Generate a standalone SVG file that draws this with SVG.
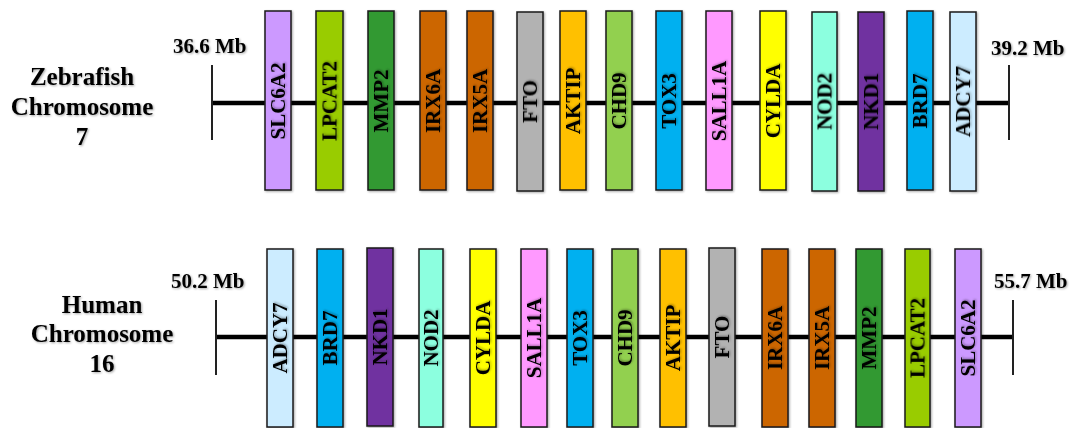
<svg xmlns="http://www.w3.org/2000/svg" width="1078" height="428" viewBox="0 0 1078 428">
<defs>
<filter id="sh" x="-20%" y="-20%" width="140%" height="140%">
<feDropShadow dx="1" dy="1" stdDeviation="0.8" flood-color="#000" flood-opacity="0.35"/>
</filter>
</defs>
<style>
text{font-family:"Liberation Serif","Times New Roman",serif;font-weight:bold;fill:#000;}
.title{font-size:25px;text-anchor:middle;filter:url(#sh);}
.mb{font-size:21px;filter:url(#sh);}
.gene rect{stroke:#1a1a1a;stroke-width:1.5;filter:url(#sh);}
.gene text{font-size:21px;text-anchor:middle;dominant-baseline:central;filter:url(#sh);}
.chr{stroke:#000;stroke-width:4.5;}
.tick{stroke:#222;stroke-width:2;}
</style>
<rect width="1078" height="428" fill="#fff"/>

<g id="zebrafish-label">
<text class="title" x="82" y="85">Zebrafish</text>
<text class="title" x="82" y="115">Chromosome</text>
<text class="title" x="82" y="145">7</text>
<text class="mb" x="173" y="53">36.6 Mb</text>
<text class="mb" x="991" y="55">39.2 Mb</text>
</g>
<g id="human-label">
<text class="title" x="102" y="313">Human</text>
<text class="title" x="102" y="342">Chromosome</text>
<text class="title" x="102" y="372">16</text>
<text class="mb" x="171" y="288">50.2 Mb</text>
<text class="mb" x="994" y="288">55.7 Mb</text>
</g>

<g id="connectors">
<line class="chr" x1="212" y1="103" x2="1009" y2="103"/>
<line class="tick" x1="212" y1="65" x2="212" y2="140"/>
<line class="tick" x1="1009" y1="65" x2="1009" y2="140"/>
<line class="chr" x1="216" y1="337" x2="1013" y2="337"/>
<line class="tick" x1="216" y1="300" x2="216" y2="375"/>
<line class="tick" x1="1013" y1="300" x2="1013" y2="375"/>
</g>

<!-- Zebrafish genes -->
<g id="z-SLC6A2" class="gene"><rect x="265" y="11" width="26" height="179" fill="#CC99FF"/><text transform="translate(278,101) rotate(-90)">SLC6A2</text></g>
<g id="z-LPCAT2" class="gene"><rect x="316" y="11" width="27" height="179" fill="#99CC00"/><text transform="translate(329.5,101) rotate(-90)">LPCAT2</text></g>
<g id="z-MMP2" class="gene"><rect x="368" y="11" width="26" height="179" fill="#339933"/><text transform="translate(381,101) rotate(-90)">MMP2</text></g>
<g id="z-IRX6A" class="gene"><rect x="420" y="11" width="26" height="179" fill="#CC6600"/><text transform="translate(433,101) rotate(-90)">IRX6A</text></g>
<g id="z-IRX5A" class="gene"><rect x="467" y="11" width="26" height="179" fill="#CC6600"/><text transform="translate(480,101) rotate(-90)">IRX5A</text></g>
<g id="z-FTO" class="gene"><rect x="517" y="12" width="26" height="179" fill="#B2B2B2"/><text transform="translate(530,101.5) rotate(-90)">FTO</text></g>
<g id="z-AKTIP" class="gene"><rect x="560" y="11" width="26" height="179" fill="#FFC000"/><text transform="translate(573,101) rotate(-90)">AKTIP</text></g>
<g id="z-CHD9" class="gene"><rect x="606" y="11" width="26" height="179" fill="#92D050"/><text transform="translate(619,101) rotate(-90)">CHD9</text></g>
<g id="z-TOX3" class="gene"><rect x="656" y="11" width="26" height="179" fill="#00B0F0"/><text transform="translate(669,101) rotate(-90)">TOX3</text></g>
<g id="z-SALL1A" class="gene"><rect x="706" y="11" width="26" height="179" fill="#FF99FF"/><text transform="translate(719,101) rotate(-90)">SALL1A</text></g>
<g id="z-CYLDA" class="gene"><rect x="760" y="11" width="26" height="179" fill="#FFFF00"/><text transform="translate(773,101) rotate(-90)">CYLDA</text></g>
<g id="z-NOD2" class="gene"><rect x="812" y="12" width="25" height="179" fill="#8CFFDF"/><text transform="translate(824.5,101.5) rotate(-90)">NOD2</text></g>
<g id="z-NKD1" class="gene"><rect x="858" y="12" width="26" height="179" fill="#7030A0"/><text transform="translate(871,101.5) rotate(-90)">NKD1</text></g>
<g id="z-BRD7" class="gene"><rect x="907" y="11" width="26" height="179" fill="#00B0F0"/><text transform="translate(920,101) rotate(-90)">BRD7</text></g>
<g id="z-ADCY7" class="gene"><rect x="950" y="12" width="26" height="179" fill="#CCECFF"/><text transform="translate(963,101.5) rotate(-90)">ADCY7</text></g>

<!-- Human genes -->
<g id="h-ADCY7" class="gene"><rect x="267" y="249" width="26" height="178" fill="#CCECFF"/><text transform="translate(280,338) rotate(-90)">ADCY7</text></g>
<g id="h-BRD7" class="gene"><rect x="317" y="249" width="26" height="178" fill="#00B0F0"/><text transform="translate(330,338) rotate(-90)">BRD7</text></g>
<g id="h-NKD1" class="gene"><rect x="367" y="248" width="26" height="178" fill="#7030A0"/><text transform="translate(380,337) rotate(-90)">NKD1</text></g>
<g id="h-NOD2" class="gene"><rect x="419" y="249" width="24" height="178" fill="#8CFFDF"/><text transform="translate(431,338) rotate(-90)">NOD2</text></g>
<g id="h-CYLDA" class="gene"><rect x="470" y="249" width="26" height="178" fill="#FFFF00"/><text transform="translate(483,338) rotate(-90)">CYLDA</text></g>
<g id="h-SALL1A" class="gene"><rect x="521" y="249" width="26" height="178" fill="#FF99FF"/><text transform="translate(534,338) rotate(-90)">SALL1A</text></g>
<g id="h-TOX3" class="gene"><rect x="567" y="249" width="26" height="178" fill="#00B0F0"/><text transform="translate(580,338) rotate(-90)">TOX3</text></g>
<g id="h-CHD9" class="gene"><rect x="612" y="249" width="26" height="178" fill="#92D050"/><text transform="translate(625,338) rotate(-90)">CHD9</text></g>
<g id="h-AKTIP" class="gene"><rect x="660" y="249" width="26" height="178" fill="#FFC000"/><text transform="translate(673,338) rotate(-90)">AKTIP</text></g>
<g id="h-FTO" class="gene"><rect x="709" y="248" width="26" height="178" fill="#B2B2B2"/><text transform="translate(722,337) rotate(-90)">FTO</text></g>
<g id="h-IRX6A" class="gene"><rect x="762" y="249" width="26" height="178" fill="#CC6600"/><text transform="translate(775,338) rotate(-90)">IRX6A</text></g>
<g id="h-IRX5A" class="gene"><rect x="809" y="249" width="26" height="178" fill="#CC6600"/><text transform="translate(822,338) rotate(-90)">IRX5A</text></g>
<g id="h-MMP2" class="gene"><rect x="856" y="249" width="26" height="178" fill="#339933"/><text transform="translate(869,338) rotate(-90)">MMP2</text></g>
<g id="h-LPCAT2" class="gene"><rect x="905" y="249" width="25" height="178" fill="#99CC00"/><text transform="translate(917.5,338) rotate(-90)">LPCAT2</text></g>
<g id="h-SLC6A2" class="gene"><rect x="955" y="249" width="26" height="178" fill="#CC99FF"/><text transform="translate(968,338) rotate(-90)">SLC6A2</text></g>
</svg>
